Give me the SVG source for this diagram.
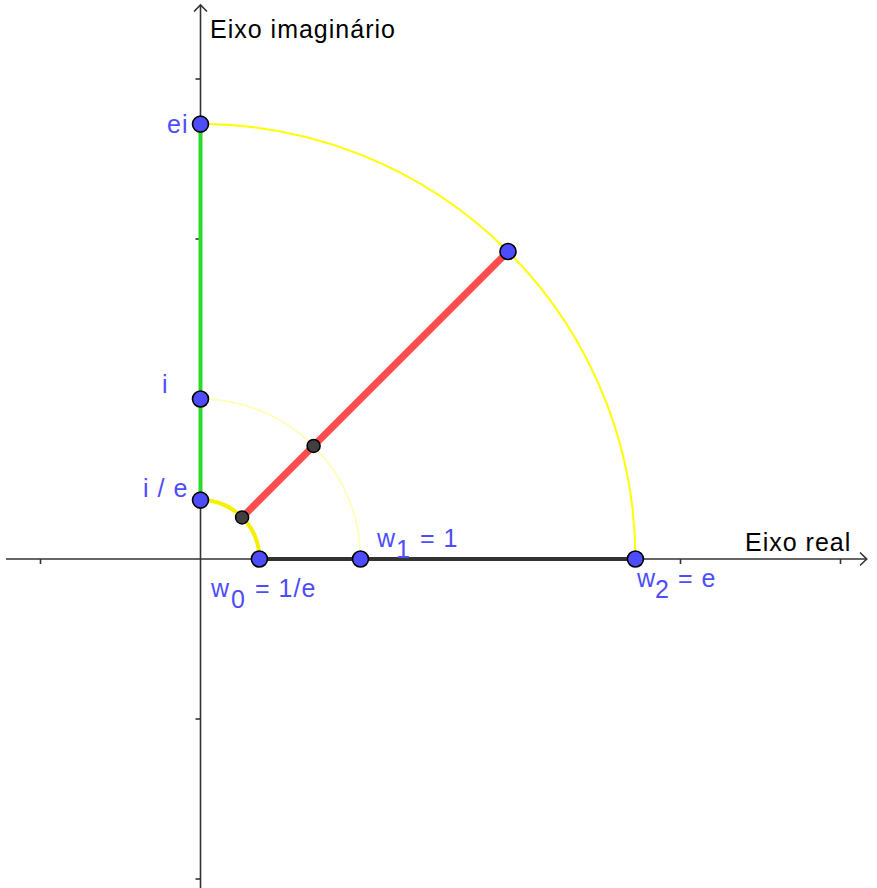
<svg xmlns="http://www.w3.org/2000/svg" width="877" height="888" viewBox="0 0 877 888">
<style>
.axis{stroke:#333;stroke-width:1.6;fill:none}
.tick{stroke:#333;stroke-width:1.6}
.lbl{font-family:"Liberation Sans",Arial,sans-serif;font-size:25px;letter-spacing:1px;fill:#4d4dff}
.title{font-family:"Liberation Sans",Arial,sans-serif;font-size:25px;letter-spacing:1px;fill:#000}
.pt{fill:#4d4dff;stroke:#000;stroke-width:1.6}
.dp{fill:#404040;stroke:#000;stroke-width:1.5}
</style>
<rect width="877" height="888" fill="#fff"/>
<g id="axes">
<line class="axis" x1="6" y1="559" x2="867" y2="559"/>
<polyline class="axis" points="860,552.5 866.7,559 860,565.5"/>
<line class="axis" x1="200.5" y1="888" x2="200.5" y2="5"/>
<polyline class="axis" points="194,11.5 200.5,5 207,11.5"/>
<line class="tick" x1="40.5" y1="559" x2="40.5" y2="564"/>
<line class="tick" x1="680.5" y1="559" x2="680.5" y2="564"/>
<line class="tick" x1="840.5" y1="559" x2="840.5" y2="564"/>
<line class="tick" x1="195.5" y1="79" x2="200.5" y2="79"/>
<line class="tick" x1="195.5" y1="239" x2="200.5" y2="239"/>
<line class="tick" x1="195.5" y1="719" x2="200.5" y2="719"/>
<line class="tick" x1="195.5" y1="879" x2="200.5" y2="879"/>
<text class="title" x="210" y="38">Eixo imaginário</text>
<text class="title" x="745" y="551">Eixo real</text>
</g>
<g id="connectors">
<path d="M635.4 559 A434.9 434.9 0 0 0 200.5 124.1" fill="none" stroke="#ffff00" stroke-width="2"/>
<path d="M360.5 559 A160 160 0 0 0 200.5 399" fill="none" stroke="#ffffb0" stroke-width="1.5"/>
<path d="M259.4 559 A58.86 58.86 0 0 0 200.5 500.1" fill="none" stroke="#f5f000" stroke-width="4"/>
<line x1="259.4" y1="559" x2="635.4" y2="559" stroke="#333" stroke-width="4"/>
<line x1="200.5" y1="124.1" x2="200.5" y2="500.1" stroke="#2bd92b" stroke-width="4"/>
<line x1="242.1" y1="517.4" x2="508" y2="251.5" stroke="#ff4d4d" stroke-width="7"/>
</g>
<g id="ei"><circle class="pt" cx="200.5" cy="124.1" r="8"/><text class="lbl" x="167" y="133">ei</text></g>
<g id="i"><circle class="pt" cx="200.5" cy="399" r="8"/><text class="lbl" x="162" y="393">i</text></g>
<g id="ie"><circle class="pt" cx="200.5" cy="500.1" r="8"/><text class="lbl" x="143" y="497">i / e</text></g>
<g id="w0"><circle class="pt" cx="259.4" cy="559" r="8"/><text class="lbl" x="211" y="597">w<tspan x="231" y="608">0</tspan><tspan x="255" y="597">= 1/e</tspan></text></g>
<g id="w1"><circle class="pt" cx="360.5" cy="559" r="8"/><text class="lbl" x="377" y="547">w<tspan x="396" y="558">1</tspan><tspan x="420" y="547">= 1</tspan></text></g>
<g id="w2"><circle class="pt" cx="635.4" cy="559" r="8"/><text class="lbl" x="637" y="587">w<tspan x="655" y="598">2</tspan><tspan x="678" y="587">= e</tspan></text></g>
<g id="p45e"><circle class="pt" cx="508" cy="251.5" r="8"/></g>
<g id="p45one"><circle class="dp" cx="313.6" cy="445.9" r="6.5"/></g>
<g id="p45inv"><circle class="dp" cx="242.1" cy="517.4" r="6.5"/></g>
</svg>
